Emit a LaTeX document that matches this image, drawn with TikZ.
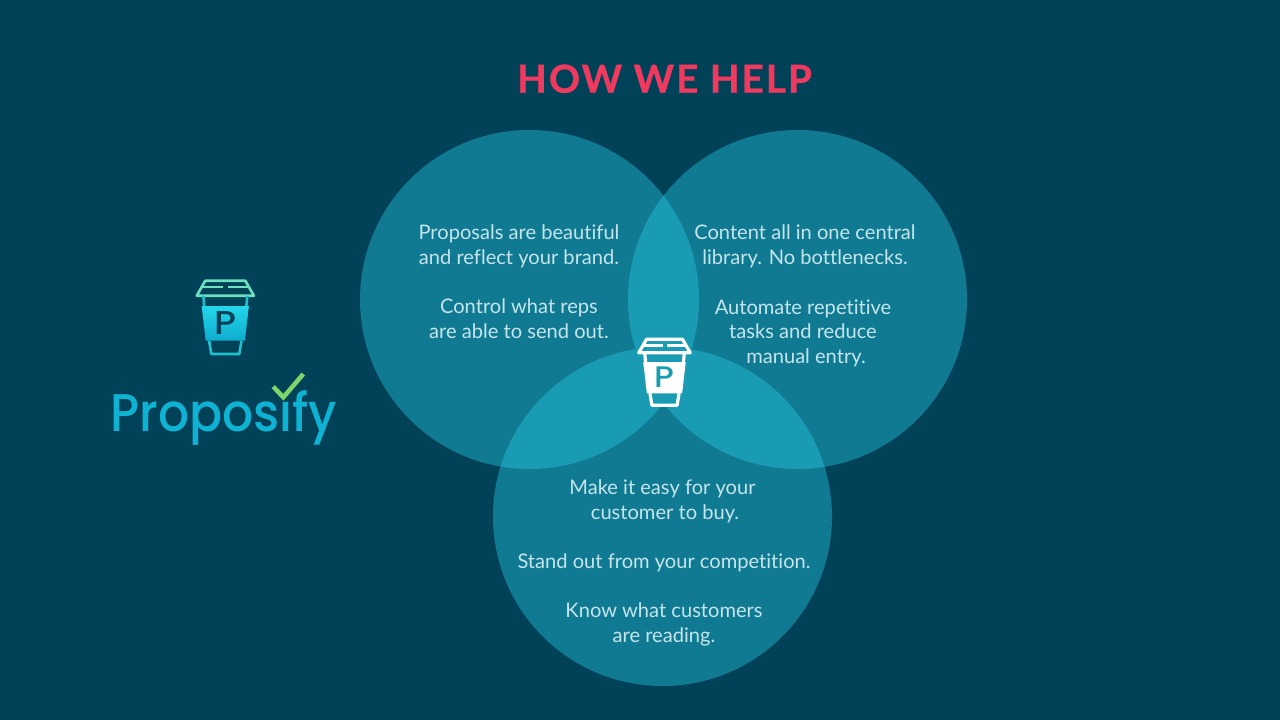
\documentclass[tikz,border=0pt]{standalone}
\usepackage{fontspec}
\setmainfont[Ligatures=NoCommon]{Lato}
\newfontfamily\logofont{Poppins Medium}
\definecolor{bgc}{RGB}{1,66,88}
\definecolor{circc}{RGB}{17,122,147}
\definecolor{lapc}{RGB}{26,155,180}
\definecolor{titlec}{RGB}{240,57,95}
\definecolor{txtc}{RGB}{196,229,236}
\definecolor{logoc}{RGB}{14,178,210}
\definecolor{sleevetop}{RGB}{36,214,234}
\definecolor{sleevebot}{RGB}{14,172,206}
\definecolor{lidc}{RGB}{110,224,190}
\definecolor{bodyc}{RGB}{30,190,205}
\definecolor{checkc}{RGB}{125,214,106}
\tikzset{
  venn/.style={fill=circc,draw=none},
  lap/.style={fill=lapc,draw=none},
  para/.style={text=txtc,font=\fontsize{20.1}{24.75}\selectfont,align=center,inner sep=0pt,anchor=base},
  pics/cup/.style n args={6}{code={
    % #1 lid colour, #2 body colour, #3 sleeve top, #4 sleeve bottom, #5 letter colour, #6 line width
    \draw[#1,line width=#6,line join=round] (-28.6,15) -- (-20,0) -- (20,0) -- (28.6,15) -- cycle;
    \draw[#1,line width=#6*.8] (-23.6,6.7) -- (-2,6.7) (3,6.7) -- (23.6,6.7);
    \draw[#2,line width=#6] (-22,15) -- (-21,26) (22,15) -- (21,26);
    \shade[top color=#3,bottom color=#4] (-23.6,25.3) -- (23.6,25.3) -- (19.6,60) -- (-19.6,60) -- cycle;
    \draw[#2,line width=#6,line join=round] (-16.2,60) -- (-14,73.3) -- (14,73.3) -- (16.2,60);
    \node[text=#5,font=\fontsize{33}{33}\selectfont\logofont,inner sep=0pt,anchor=base,transform shape] at (0,54) {\scalebox{1.12}[1]{P}};
  }}
}
\begin{document}
\begin{tikzpicture}[x=1pt,y=-1pt]
\useasboundingbox (0,0) rectangle (1280,720);
\fill[bgc] (0,0) rectangle (1280,720);
\coordinate (cl) at (529.5,299.5);
\coordinate (cr) at (797.5,299.5);
\coordinate (cb) at (662.5,516.5);
\foreach \c in {cl,cr,cb} \fill[venn] (\c) circle[radius=169.5];
\begin{scope}
  \clip (cl) circle[radius=169.5];
  \fill[lap] (cr) circle[radius=169.5];
  \fill[lap] (cb) circle[radius=169.5];
\end{scope}
\begin{scope}
  \clip (cr) circle[radius=169.5];
  \fill[lap] (cb) circle[radius=169.5];
\end{scope}
\node[text=titlec,inner sep=0pt,anchor=base,font=\fontsize{38.5}{38.5}\selectfont\bfseries\addfontfeature{LetterSpace=5.5,FakeBold=0.8}] (title) at (664.5,92.7) {HOW WE HELP};

\node[para] (l1) at (519,264.5) {Proposals are beautiful\\and reflect your brand.};
\node[para] (l2) at (519,338.5) {Control what reps\\are able to send out.};
\node[para] (r1) at (805,264.5) {Content all in one central\\library. No bottlenecks.};
\node[para] (r2) at (803,363.5) {Automate repetitive\\tasks and reduce\\\hspace*{6pt}manual entry.};
\node[para] (b1) at (662.5,519.5) {Make it easy for your\\\hspace*{5pt}customer to buy.};
\node[para] (b2) at (664,568.5) {Stand out from your competition.};
\node[para] (b3) at (664,642.5) {Know what customers\\are reading.};

\pic at (225.3,280.7) {cup={lidc}{bodyc}{sleevetop}{sleevebot}{bgc}{2.6pt}};
\begin{scope}[shift={(664.5,339.3)},scale=.9]
\pic[transform shape] at (0,0) {cup={white}{white}{white}{white}{lapc}{3.2pt}};
\end{scope}

\node[text=logoc,inner sep=0pt,anchor=base,font=\fontsize{53}{53}\selectfont\logofont] (brand) at (224,431) {\scalebox{.92}[1]{Proposıfy}};
\draw[checkc,line width=4.5pt] (273.3,386.7) -- (283.3,397.3) -- (303.3,374);
\end{tikzpicture}
\end{document}
